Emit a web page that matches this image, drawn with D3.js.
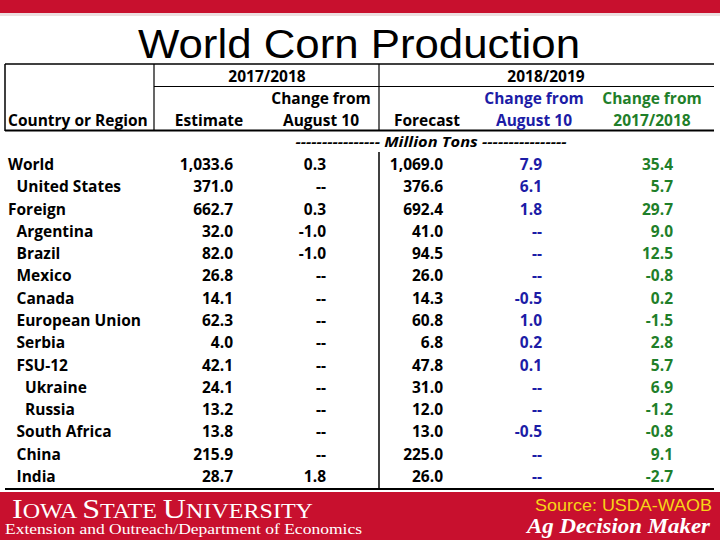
<!DOCTYPE html>
<html>
<head>
<meta charset="utf-8">
<script src="https://cdn.jsdelivr.net/npm/d3@7"></script>
<style>
  html, body { margin: 0; padding: 0; background: #fff; }
  svg { display: block; }
</style>
</head>
<body>
<div id="chart"></div>
<script>
// ---- Data ----
const title = "World Corn Production";
const regions = ["World", "United States", "Foreign", "Argentina", "Brazil", "Mexico", "Canada",
  "European Union", "Serbia", "FSU-12", "Ukraine", "Russia", "South Africa", "China", "India"];
const indentLevel = [0, 1, 0, 1, 1, 1, 1, 1, 1, 1, 2, 2, 1, 1, 1];
const estimate1718 = [1033.6, 371.0, 662.7, 32.0, 82.0, 26.8, 14.1, 62.3, 4.0, 42.1, 24.1, 13.2, 13.8, 215.9, 28.7];
const changeAug1718 = [0.3, null, 0.3, -1.0, -1.0, null, null, null, null, null, null, null, null, null, 1.8];
const forecast1819 = [1069.0, 376.6, 692.4, 41.0, 94.5, 26.0, 14.3, 60.8, 6.8, 47.8, 31.0, 12.0, 13.0, 225.0, 26.0];
const changeAug1819 = [7.9, 6.1, 1.8, null, null, null, -0.5, 1.0, 0.2, 0.1, null, null, -0.5, null, null];
const changeYear = [35.4, 5.7, 29.7, 9.0, 12.5, -0.8, 0.2, -1.5, 2.8, 5.7, 6.9, -1.2, -0.8, 9.1, -2.7];
const yearLabels = ["2017/2018", "2018/2019"];
const unitLabel = "Million Tons";
const sourceText = "Source: USDA-WAOB";

// ---- Layout ----
const W = 720, H = 540;
const RED = "#c8102e", BLUE = "#1c1ca6", GREEN = "#1f7f2a";
const FONT = "'Open Sans', 'Noto Sans', sans-serif";
const svg = d3.select("#chart").append("svg").attr("width", W).attr("height", H);

// top band
svg.append("rect").attr("x", 0).attr("y", 0).attr("width", W).attr("height", 13).attr("fill", RED);
svg.append("rect").attr("x", 0).attr("y", 13).attr("width", W).attr("height", 3).attr("fill", "#ecdfe0");

// title
svg.append("text").attr("x", 359).attr("y", 58).attr("text-anchor", "middle")
  .attr("font-family", "'Liberation Sans', Arial, sans-serif").attr("font-size", 40)
  .attr("textLength", 442).attr("lengthAdjust", "spacingAndGlyphs")
  .attr("fill", "#000").text(title);

// table lines
const lines = svg.append("g").attr("stroke", "#000");
lines.append("line").attr("x1", 5).attr("x2", 714).attr("y1", 64).attr("y2", 64).attr("stroke-width", 1.5);
lines.append("line").attr("x1", 5).attr("x2", 5).attr("y1", 64).attr("y2", 131).attr("stroke-width", 1.5);
lines.append("line").attr("x1", 154).attr("x2", 154).attr("y1", 64).attr("y2", 131).attr("stroke-width", 1.2);
lines.append("line").attr("x1", 379).attr("x2", 379).attr("y1", 64).attr("y2", 131).attr("stroke-width", 1.2);
lines.append("line").attr("x1", 154).attr("x2", 714).attr("y1", 86.5).attr("y2", 86.5).attr("stroke-width", 1.2);
lines.append("line").attr("x1", 5).attr("x2", 714).attr("y1", 130.5).attr("y2", 130.5).attr("stroke-width", 2);
lines.append("line").attr("x1", 379).attr("x2", 379).attr("y1", 152).attr("y2", 489).attr("stroke-width", 1.5);
lines.append("line").attr("x1", 5).attr("x2", 714).attr("y1", 489).attr("y2", 489).attr("stroke-width", 2);

// header text
const hdr = svg.append("g").attr("font-family", FONT).attr("font-weight", 700).attr("font-size", 15.5);
function htext(x, y, t, color, anchor) {
  hdr.append("text").attr("x", x).attr("y", y).attr("text-anchor", anchor || "middle")
    .attr("fill", color || "#000").text(t);
}
htext(267, 82, yearLabels[0]);
htext(546, 82, yearLabels[1]);
htext(321, 104, "Change from");
htext(321, 126, "August 10");
htext(8, 126, "Country or Region", "#000", "start");
htext(209, 126, "Estimate");
htext(427, 126, "Forecast");
htext(534, 104, "Change from", BLUE);
htext(534, 126, "August 10", BLUE);
htext(652, 104, "Change from", GREEN);
htext(652, 126, yearLabels[0], GREEN);

// units row
svg.append("text").attr("x", 431).attr("y", 147).attr("text-anchor", "middle")
  .attr("font-family", FONT).attr("font-weight", 700).attr("font-style", "italic").attr("font-size", 14)
  .attr("textLength", 271).attr("lengthAdjust", "spacingAndGlyphs")
  .text("---------------- " + unitLabel + " ----------------");

// rows
const y = d3.scalePoint().domain(regions).range([170, 482]);
const locale = d3.formatLocale({ decimal: ".", thousands: ",", grouping: [3], currency: ["", ""], minus: "-" });
const fmt = v => v == null ? "--" : locale.format(",.1f")(v);
const columns = [
  { values: estimate1718, x: 233, color: "#000" },
  { values: changeAug1718, x: 326, color: "#000" },
  { values: forecast1819, x: 443, color: "#000" },
  { values: changeAug1819, x: 542, color: BLUE },
  { values: changeYear, x: 673, color: GREEN }
];
const body = svg.append("g").attr("font-family", FONT).attr("font-weight", 700).attr("font-size", 15.5);
body.selectAll("text.name").data(regions).join("text").attr("class", "name")
  .attr("x", (d, i) => 8 + indentLevel[i] * 8.5).attr("y", d => y(d)).attr("fill", "#000").text(d => d);
columns.forEach(col => {
  body.selectAll(null).data(regions).join("text")
    .attr("x", col.x).attr("y", d => y(d)).attr("text-anchor", "end")
    .attr("fill", col.color).text((d, i) => fmt(col.values[i]));
});

// footer band
svg.append("rect").attr("x", 0).attr("y", 492).attr("width", W).attr("height", H - 492).attr("fill", RED);
const isu = svg.append("text").attr("x", 12).attr("y", 518)
  .attr("font-family", "'Liberation Serif', 'DejaVu Serif', serif").attr("fill", "#fff")
  .attr("textLength", 301).attr("lengthAdjust", "spacingAndGlyphs");
[["I", 28], ["OWA ", 21], ["S", 28], ["TATE ", 21], ["U", 28], ["NIVERSITY", 21]].forEach(([t, s]) => {
  isu.append("tspan").attr("font-size", s).text(t);
});
svg.append("text").attr("x", 5).attr("y", 534)
  .attr("font-family", "'Liberation Serif', 'DejaVu Serif', serif").attr("font-size", 15).attr("fill", "#fff")
  .attr("textLength", 357).attr("lengthAdjust", "spacingAndGlyphs")
  .text("Extension and Outreach/Department of Economics");
svg.append("text").attr("x", 712).attr("y", 511).attr("text-anchor", "end")
  .attr("font-family", "'Liberation Sans', Arial, sans-serif").attr("font-size", 17).attr("fill", "#f7d417")
  .attr("textLength", 177).attr("lengthAdjust", "spacingAndGlyphs")
  .text(sourceText);
svg.append("text").attr("x", 710).attr("y", 533).attr("text-anchor", "end")
  .attr("font-family", "'Liberation Serif', 'DejaVu Serif', serif").attr("font-size", 20)
  .attr("font-weight", 700).attr("font-style", "italic").attr("fill", "#fff")
  .attr("textLength", 183).attr("lengthAdjust", "spacingAndGlyphs")
  .text("Ag Decision Maker");
</script>
</body>
</html>
